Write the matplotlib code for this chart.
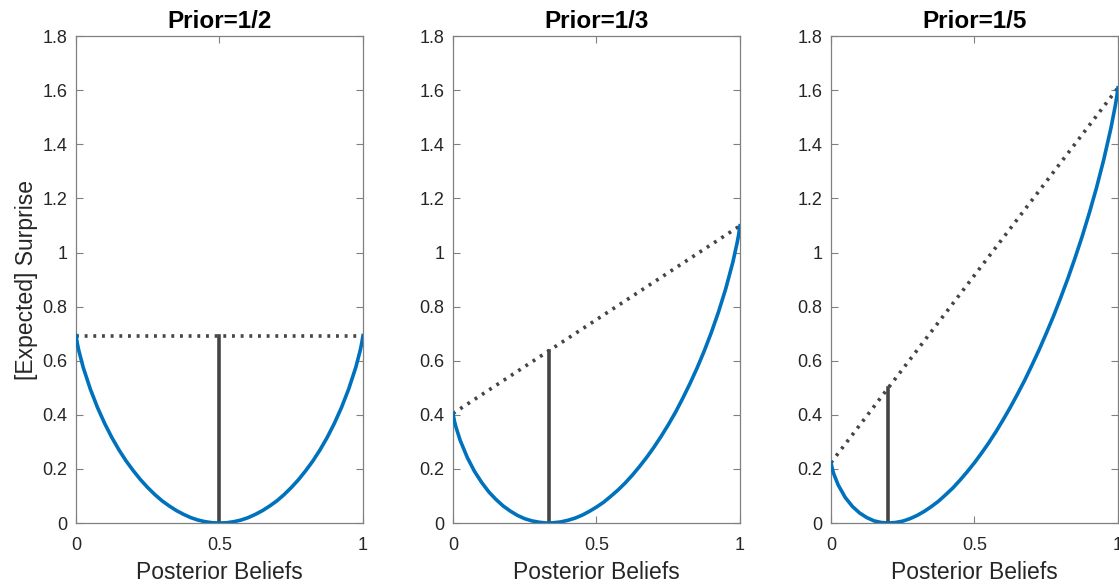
import matplotlib
matplotlib.use("Agg")
import matplotlib.pyplot as plt

plt.rcParams['font.family'] = ['Liberation Sans', 'DejaVu Sans']

titles = ["Prior=1/2", "Prior=1/3", "Prior=1/5"]
priors = [0.5, 1/3, 0.2]

# posterior beliefs (x), shared by all three panels
q_grid = [0, 0.005, 0.01, 0.025, 0.05, 0.075, 0.1, 0.125, 0.15, 0.175, 0.2, 0.225, 0.25,
          0.275, 0.3, 0.325, 0.35, 0.375, 0.4, 0.425, 0.45, 0.475, 0.5,
          0.525, 0.55, 0.575, 0.6, 0.625, 0.65, 0.675, 0.7, 0.725, 0.75,
          0.775, 0.8, 0.825, 0.85, 0.875, 0.9, 0.925, 0.95, 0.975, 0.99, 0.995, 1]

# expected surprise
s_half = [0.693, 0.662, 0.637, 0.576, 0.495, 0.427, 0.368, 0.316, 0.270, 0.229, 0.193, 0.160, 0.131,
          0.105, 0.082, 0.063, 0.046, 0.032, 0.020, 0.011, 0.005, 0.001, 0.0,
          0.001, 0.005, 0.011, 0.020, 0.032, 0.046, 0.063, 0.082, 0.105, 0.131,
          0.160, 0.193, 0.229, 0.270, 0.316, 0.368, 0.427, 0.495, 0.576, 0.637, 0.662, 0.693]

s_third = [0.405, 0.377, 0.356, 0.306, 0.242, 0.191, 0.150, 0.115, 0.087, 0.063, 0.044, 0.028, 0.016,
           0.008, 0.003, 0.000, 0.001, 0.004, 0.010, 0.018, 0.029, 0.043, 0.059,
           0.077, 0.099, 0.122, 0.148, 0.177, 0.209, 0.243, 0.280, 0.320, 0.363,
           0.409, 0.460, 0.514, 0.572, 0.635, 0.704, 0.780, 0.865, 0.964, 1.036, 1.064, 1.099]

s_fifth = [0.223, 0.199, 0.181, 0.141, 0.094, 0.061, 0.037, 0.020, 0.008, 0.002, 0.0, 0.002, 0.007,
           0.016, 0.028, 0.043, 0.061, 0.081, 0.105, 0.130, 0.159, 0.190, 0.223,
           0.259, 0.297, 0.338, 0.382, 0.428, 0.477, 0.528, 0.583, 0.640, 0.701,
           0.764, 0.832, 0.903, 0.979, 1.059, 1.146, 1.239, 1.342, 1.458, 1.540, 1.571, 1.609]

# expected surprise at the prior (top of vertical line)
expected = [0.693, 0.637, 0.500]

ss = [s_half, s_third, s_fifth]

blue = '#0072BD'
dark = '#454545'
axc = '#808080'

fig = plt.figure(figsize=(11.19, 5.88), dpi=100)
lefts = [0.0679, 0.4048, 0.7426]
for i in range(3):
    ax = fig.add_axes([lefts[i], 0.1105, 0.2565, 0.828])
    q, s = q_grid, ss[i]
    ax.plot([q[0], q[-1]], [s[0], s[-1]], linestyle=(0, (0.8, 1.6)), color=dark, lw=2.6, zorder=2)
    ax.plot([priors[i], priors[i]], [0, expected[i]], color=dark, lw=2.6, zorder=2)
    ax.plot(q, s, color=blue, lw=2.6, zorder=3, solid_joinstyle='round')
    ax.set_xlim(0, 1)
    ax.set_ylim(0, 1.8)
    ax.set_xticks([0, 0.5, 1])
    ax.set_xticklabels(['0', '0.5', '1'])
    ax.set_yticks([0, 0.2, 0.4, 0.6, 0.8, 1.0, 1.2, 1.4, 1.6, 1.8])
    ax.set_yticklabels(['0', '0.2', '0.4', '0.6', '0.8', '1', '1.2', '1.4', '1.6', '1.8'])
    ax.tick_params(direction='in', top=True, right=True, length=5, width=0.8,
                   color=axc, labelcolor='#262626', labelsize=13)
    ax.tick_params(axis='x', pad=10)
    ax.tick_params(axis='y', pad=6)
    for sp in ax.spines.values():
        sp.set_color(axc)
        sp.set_linewidth(0.9)
    ax.set_title(titles[i], fontsize=17.5, fontweight='bold', pad=6, color='black')
    ax.set_xlabel('Posterior Beliefs', fontsize=16.5, color='#262626', labelpad=5)
    if i == 0:
        ax.set_ylabel('[Expected] Surprise', fontsize=16.5, color='#262626', labelpad=3)
    ax.set_facecolor('white')

fig.savefig('out.png', dpi=100, facecolor='white')
